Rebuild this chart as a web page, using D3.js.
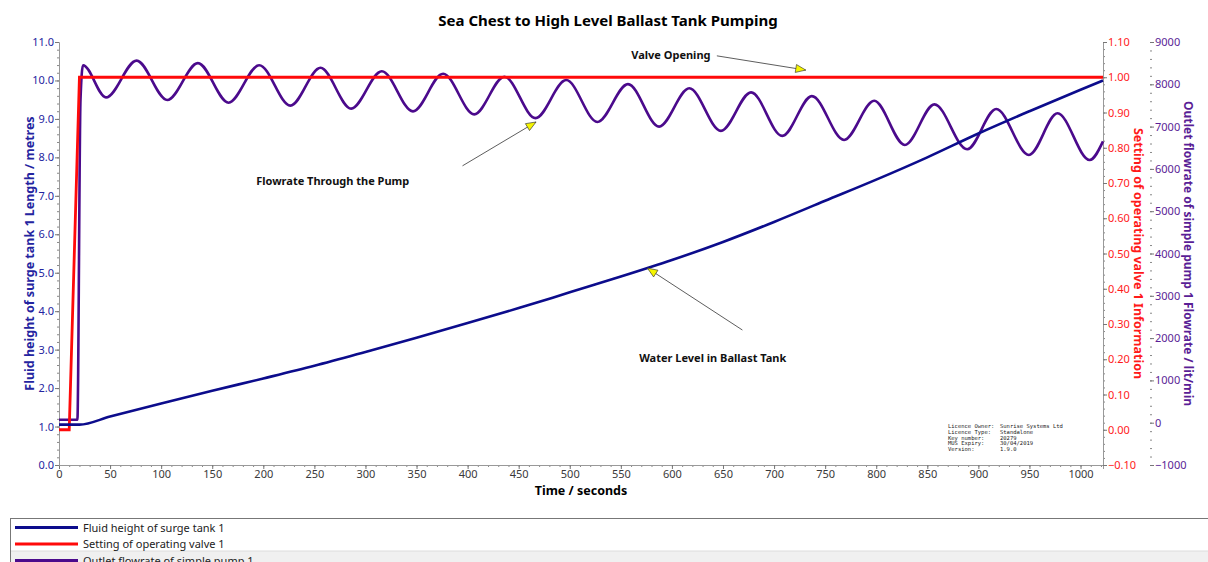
<!DOCTYPE html>
<html>
<head>
<meta charset="utf-8">
<script src="https://cdn.jsdelivr.net/npm/d3@7"></script>
<style>
    body { margin: 0; background: #fff; }
    svg { display: block; font-family: 'Noto Sans', sans-serif; }
</style>
</head>
<body>
<svg id="chart"></svg>
<script>
// values
const level_time = [0, 20, 50, 100, 150, 200, 250, 300, 350, 400, 450, 500, 550, 600, 650, 700, 750, 800, 850, 900, 950, 1000, 1022];
const level_values = [1.05, 1.05, 1.26, 1.6, 1.93, 2.25, 2.58, 2.94, 3.31, 3.69, 4.08, 4.49, 4.9, 5.33, 5.8, 6.32, 6.87, 7.42, 8.0, 8.62, 9.2, 9.76, 10.0];

const valve_time = [0, 10, 20, 1022];
const valve_values = [0, 0, 1, 1];

const flow_time = [0, 18, 21, 23.5, 46, 76, 106, 136, 166, 196, 226.5, 256, 286, 316, 346.5, 376, 406.5, 436, 466.5, 496.5,
    527, 557, 587.5, 617, 648, 677.5, 708, 737, 768.5, 798, 828, 857, 889, 917.5, 949.5, 977.5, 1009, 1022];
const flow_values = [70, 70, 7600, 8450, 7690, 8560, 7630, 8500, 7565, 8450, 7495, 8390, 7425, 8310, 7360, 8250, 7290, 8180, 7200, 8100,
    7110, 8005, 7000, 7905, 6900, 7810, 6780, 7720, 6685, 7610, 6565, 7525, 6465, 7415, 6330, 7315, 6210, 6650];

const x_ticks = [0, 50, 100, 150, 200, 250, 300, 350, 400, 450, 500, 550, 600, 650, 700, 750, 800, 850, 900, 950, 1000];
const level_ticks = [0, 1, 2, 3, 4, 5, 6, 7, 8, 9, 10, 11];
const valve_ticks = [-0.1, 0, 0.1, 0.2, 0.3, 0.4, 0.5, 0.6, 0.7, 0.8, 0.9, 1.0, 1.1];
const flow_ticks = [-1000, 0, 1000, 2000, 3000, 4000, 5000, 6000, 7000, 8000, 9000];

const series_names = ['Fluid height of surge tank 1', 'Setting of operating valve 1', 'Outlet flowrate of simple pump 1'];
const licence_keys = ['Licence Owner:', 'Licence Type:', 'Key number:', 'MUS Expiry:', 'Version:'];
const licence_vals = ['Sunrise Systems Ltd', 'Standalone', '20279', '30/04/2019', '1.9.0'];

const BLUE = '#0c0c8c', RED = '#ff0a0a', PURPLE = '#4b0a8c';

class TrendChart {
    constructor (config) {
        this.config = {
            parent: config.parent,
            width: config.width || 1208,
            height: config.height || 562,
            margin: config.margin || {top:42, right:105, bottom:97, left:59},
            title: config.title || ''
        };
        this.init();
    }

    init() {
        let self = this;
        const m = self.config.margin;

        self.svg = d3.select(self.config.parent)
            .attr('width', self.config.width)
            .attr('height', self.config.height);

        self.svg.append('rect')
            .attr('width', self.config.width)
            .attr('height', self.config.height)
            .attr('fill', '#fff');

        self.inner_width = self.config.width - m.left - m.right;
        self.inner_height = self.config.height - m.top - m.bottom;

        self.x = d3.scaleLinear().domain([0, 1022]).range([m.left, m.left + self.inner_width]);
        self.y_level = d3.scaleLinear().domain([0, 11]).range([m.top + self.inner_height, m.top]);
        self.y_valve = d3.scaleLinear().domain([-0.1, 1.1]).range([m.top + self.inner_height, m.top]);
        self.y_flow = d3.scaleLinear().domain([-1000, 9000]).range([m.top + self.inner_height, m.top]);

        self.svg.append('text')
            .style('font-size', '15px')
            .style('font-weight', 'bold')
            .attr('text-anchor', 'middle')
            .attr('x', self.config.width/2 + 4)
            .attr('y', 26)
            .text(self.config.title);
    }

    axis(gen, major, minor, transform, color, fmt) {
        let self = this;
        self.svg.append('g')
            .attr('transform', transform)
            .call(gen.tickValues(minor).tickSize(2).tickFormat(''))
            .call(g => g.select('.domain').remove())
            .selectAll('line').attr('stroke', '#888');

        const g = self.svg.append('g')
            .attr('transform', transform)
            .call(gen.tickValues(major).tickSize(4).tickPadding(1).tickFormat(fmt));
        g.select('.domain').attr('stroke', '#999');
        g.selectAll('line').attr('stroke', '#777');
        g.selectAll('text').attr('fill', color).style('font-size', '11px').style('font-family', "'Noto Sans', sans-serif");
        return g;
    }

    render() {
        let self = this;
        const m = self.config.margin;
        const bottom = m.top + self.inner_height;
        const right = m.left + self.inner_width;

        // axes
        self.axis(d3.axisBottom(self.x), x_ticks, d3.range(0, 1021, 10), `translate(0,${bottom})`, '#3a3a3a', d3.format('d'));
        self.axis(d3.axisLeft(self.y_level), level_ticks, d3.range(0, 11.01, 0.2), `translate(${m.left},0)`, '#2424a0', d3.format('.1f'));
        self.axis(d3.axisRight(self.y_valve), valve_ticks, d3.range(-0.1, 1.101, 0.02), `translate(${right},0)`, '#ff1a1a', d3.format('.2f'));
        const gf = self.axis(d3.axisRight(self.y_flow), flow_ticks, d3.range(-1000, 9001, 200), `translate(1150,0)`, '#5a1e96', d3.format('d'));
        gf.select('.domain').remove();

        // axis titles
        const cy = (m.top + bottom)/2;
        self.svg.append('text')
            .attr('transform', `translate(34,${cy}) rotate(-90)`)
            .attr('text-anchor', 'middle')
            .style('font-size', '12.5px').style('font-weight', 'bold')
            .attr('fill', '#2424a0')
            .text('Fluid height of surge tank 1 Length / metres');
        self.svg.append('text')
            .attr('transform', `translate(1134,${cy}) rotate(90)`)
            .attr('text-anchor', 'middle')
            .style('font-size', '12.5px').style('font-weight', 'bold')
            .attr('fill', '#ff1a1a')
            .text('Setting of operating valve 1 Information');
        self.svg.append('text')
            .attr('transform', `translate(1184,${cy}) rotate(90)`)
            .attr('text-anchor', 'middle')
            .style('font-size', '12px').style('font-weight', 'bold')
            .attr('fill', '#5a1e96')
            .text('Outlet flowrate of simple pump 1 Flowrate / lit/min');
        self.svg.append('text')
            .attr('x', (m.left + right)/2)
            .attr('y', 495)
            .attr('text-anchor', 'middle')
            .style('font-size', '12.5px').style('font-weight', 'bold')
            .text('Time / seconds');

        // series
        const line_level = d3.line().x(d => self.x(d[0])).y(d => self.y_level(d[1])).curve(d3.curveMonotoneX);
        const line_valve = d3.line().x(d => self.x(d[0])).y(d => self.y_valve(d[1]));
        const line_flow = d3.line().x(d => self.x(d[0])).y(d => self.y_flow(d[1])).curve(d3.curveMonotoneX);

        self.svg.append('path')
            .attr('d', line_flow(d3.zip(flow_time, flow_values)))
            .attr('fill', 'none').attr('stroke', PURPLE).attr('stroke-width', 2.6);
        self.svg.append('path')
            .attr('d', line_valve(d3.zip(valve_time, valve_values)))
            .attr('fill', 'none').attr('stroke', RED).attr('stroke-width', 2.8);
        self.svg.append('path')
            .attr('d', line_level(d3.zip(level_time, level_values)))
            .attr('fill', 'none').attr('stroke', BLUE).attr('stroke-width', 2.6);

        // annotations (in time / left-axis units)
        const notes = [
            {text: 'Valve Opening', tx: 599, ty: 10.57, from: [644, 10.64], to: [731, 10.27]},
            {text: 'Flowrate Through the Pump', tx: 268, ty: 7.28, from: [395, 7.78], to: [467, 8.92]},
            {text: 'Water Level in Ballast Tank', tx: 640, ty: 2.68, from: [669, 3.51], to: [576, 5.12]}
        ];
        notes.forEach(n => {
            self.svg.append('text')
                .attr('x', self.x(n.tx)).attr('y', self.y_level(n.ty))
                .attr('text-anchor', 'middle')
                .style('font-size', '11px').style('font-weight', 'bold')
                .attr('fill', '#111')
                .text(n.text);
            const x1 = self.x(n.from[0]), y1 = self.y_level(n.from[1]);
            const x2 = self.x(n.to[0]), y2 = self.y_level(n.to[1]);
            self.svg.append('line')
                .attr('x1', x1).attr('y1', y1).attr('x2', x2).attr('y2', y2)
                .attr('stroke', '#333').attr('stroke-width', 0.8);
            const ang = Math.atan2(y2 - y1, x2 - x1) * 180 / Math.PI;
            self.svg.append('path')
                .attr('d', 'M0,0 L-10,-4 L-10,4 Z')
                .attr('transform', `translate(${x2},${y2}) rotate(${ang})`)
                .attr('fill', '#f5f500').attr('stroke', '#333').attr('stroke-width', 0.6);
        });

        // licence block
        const lic = self.svg.append('g')
            .style('font-family', "'DejaVu Sans Mono', monospace")
            .style('font-size', '5.5px')
            .attr('fill', '#222');
        licence_keys.forEach((k, i) => {
            lic.append('text').attr('x', 948).attr('y', 428 + i*5.8).text(k);
            lic.append('text').attr('x', 1000).attr('y', 428 + i*5.8).text(licence_vals[i]);
        });

        // legend (third row is clipped by the window edge, as in the source)
        const leg = self.svg.append('g');
        leg.append('rect')
            .attr('x', 10.5).attr('y', 518.5)
            .attr('width', 1220).attr('height', 60)
            .attr('fill', '#fff').attr('stroke', '#777');
        leg.append('rect')
            .attr('x', 11).attr('y', 551)
            .attr('width', 1220).attr('height', 20)
            .attr('fill', '#f0f0f0');
        leg.append('line')
            .attr('x1', 11).attr('x2', 1208).attr('y1', 551).attr('y2', 551)
            .attr('stroke', '#dcdcdc');
        const colors = [BLUE, RED, PURPLE];
        series_names.forEach((s, i) => {
            const yy = 527.5 + i*16.5;
            leg.append('line')
                .attr('x1', 15).attr('x2', 78).attr('y1', yy).attr('y2', yy)
                .attr('stroke', colors[i]).attr('stroke-width', 3);
            leg.append('text')
                .attr('x', 83).attr('y', yy + 4)
                .style('font-size', '11px')
                .attr('fill', '#222')
                .text(s);
        });
    }
}

const chart = new TrendChart({
    parent: '#chart',
    width: 1208,
    height: 562,
    title: 'Sea Chest to High Level Ballast Tank Pumping'
});
chart.render();
</script>
</body>
</html>
